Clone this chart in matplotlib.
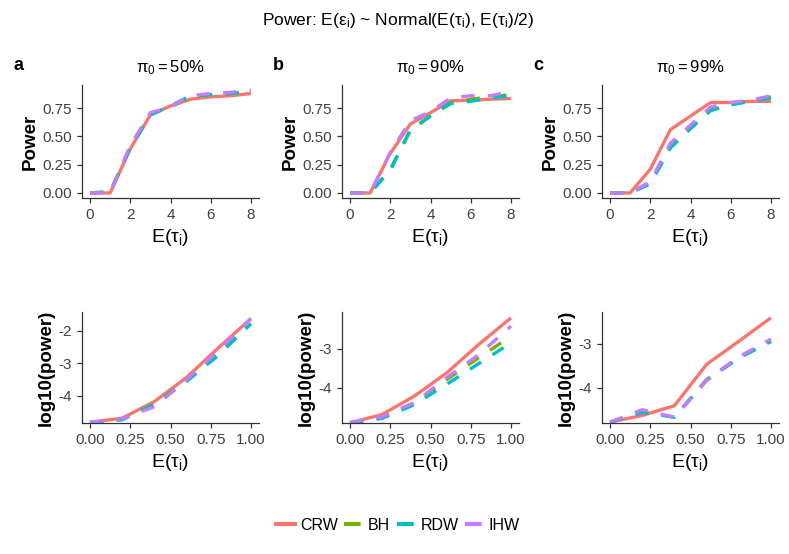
import matplotlib
matplotlib.use('Agg')
import matplotlib.pyplot as plt
from matplotlib.lines import Line2D

plt.rcParams['font.family'] = ['Liberation Sans', 'DejaVu Sans']
plt.rcParams['mathtext.fontset'] = 'custom'
plt.rcParams['mathtext.rm'] = 'Liberation Sans'
plt.rcParams['mathtext.it'] = 'Liberation Sans'
plt.rcParams['mathtext.bf'] = 'Liberation Sans:bold'
plt.rcParams['mathtext.default'] = 'regular'

# ---- data ----
methods = ['CRW', 'BH', 'RDW', 'IHW']
colors = ['#F8766D', '#7CAE00', '#00BFC4', '#C77CFF']
pi0_labels = ['50', '90', '99']
panel_letters = ['a', 'b', 'c']

tau_top = [0, 1, 2, 3, 4, 5, 6, 7, 8]
power_a = {
    'CRW': [0, 0, 0.39, 0.69, 0.77, 0.83, 0.85, 0.86, 0.88],
    'BH':  [0, 0.01, 0.40, 0.70, 0.76, 0.85, 0.87, 0.88, 0.90],
    'RDW': [0, 0.01, 0.40, 0.69, 0.77, 0.86, 0.87, 0.88, 0.89],
    'IHW': [0, 0, 0.42, 0.71, 0.76, 0.86, 0.88, 0.89, 0.91],
}
power_b = {
    'CRW': [0, 0, 0.35, 0.61, 0.71, 0.815, 0.82, 0.83, 0.835],
    'BH':  [0, 0, 0.21, 0.55, 0.68, 0.80, 0.83, 0.85, 0.87],
    'RDW': [0, 0, 0.20, 0.56, 0.68, 0.79, 0.81, 0.84, 0.86],
    'IHW': [0, 0, 0.36, 0.64, 0.72, 0.84, 0.86, 0.86, 0.90],
}
power_c = {
    'CRW': [0, 0, 0.21, 0.56, 0.68, 0.80, 0.80, 0.81, 0.81],
    'BH':  [0, 0, 0.09, 0.40, 0.57, 0.73, 0.78, 0.82, 0.85],
    'RDW': [0, 0, 0.08, 0.40, 0.57, 0.73, 0.78, 0.81, 0.84],
    'IHW': [0, 0, 0.10, 0.44, 0.60, 0.76, 0.80, 0.82, 0.86],
}

tau_bot = [0, 0.2, 0.4, 0.6, 0.8, 1.0]
logp_a = {
    'CRW': [-4.81, -4.68, -4.17, -3.43, -2.51, -1.62],
    'BH':  [-4.81, -4.72, -4.25, -3.53, -2.64, -1.78],
    'RDW': [-4.81, -4.73, -4.25, -3.55, -2.74, -1.78],
    'IHW': [-4.81, -4.70, -4.33, -3.50, -2.60, -1.62],
}
logp_b = {
    'CRW': [-4.90, -4.68, -4.21, -3.62, -2.89, -2.21],
    'BH':  [-4.90, -4.75, -4.38, -3.79, -3.23, -2.68],
    'RDW': [-4.90, -4.78, -4.43, -3.91, -3.38, -2.85],
    'IHW': [-4.88, -4.74, -4.38, -3.74, -3.15, -2.42],
}
logp_c = {
    'CRW': [-4.77, -4.62, -4.40, -3.47, -2.95, -2.42],
    'BH':  [-4.77, -4.53, -4.66, -3.81, -3.32, -2.95],
    'RDW': [-4.77, -4.55, -4.66, -3.83, -3.33, -2.95],
    'IHW': [-4.77, -4.49, -4.66, -3.83, -3.30, -2.90],
}
top_data = [power_a, power_b, power_c]
bot_data = [logp_a, logp_b, logp_c]
bot_ylims = [(-4.83, -1.42), (-4.90, -2.06), (-4.79, -2.29)]
bot_yticks = [[-4, -3, -2], [-4, -3], [-4, -3]]

W, H = 789, 554
fig = plt.figure(figsize=(W / 100, H / 100), dpi=100)

def rect(x0, y0, x1, y1):
    # pixel box -> figure fraction
    return [x0 / W, 1 - y1 / H, (x1 - x0) / W, (y1 - y0) / H]

def style(ax):
    for s in ['top', 'right']:
        ax.spines[s].set_visible(False)
    for s in ['left', 'bottom']:
        ax.spines[s].set_color('#333333')
        ax.spines[s].set_linewidth(0.9)
    ax.tick_params(colors='#333333', labelcolor='#404040', labelsize=11,
                   length=3.5, width=0.9)

lw = 2.4
xlab = r'$\mathrm{E}(\tau_{\mathrm{i}})$'
for k in range(3):
    left = 82 + 260 * k
    ax = fig.add_axes(rect(left, 85, left + 177, 198))
    for m, c in zip(methods, colors):
        ls = '-' if m == 'CRW' else (0, (4, 4))
        ax.plot(tau_top, top_data[k][m], color=c, lw=lw, ls=ls,
                solid_capstyle='butt', dash_capstyle='butt')
    ax.set_xlim(-0.4, 8.4)
    ax.set_ylim(-0.045, 0.955)
    ax.set_xticks([0, 2, 4, 6, 8])
    ax.set_yticks([0, 0.25, 0.5, 0.75])
    ax.set_yticklabels(['0.00', '0.25', '0.50', '0.75'])
    style(ax)
    ax.set_ylabel('Power', fontsize=13.5, fontweight='bold', labelpad=3)
    ax.set_xlabel(xlab, fontsize=14, labelpad=4)
    fig.text((left + 88) / W, 1 - 68 / H, r'$\pi_0 = %s\%%$' % pi0_labels[k],
             ha='center', va='center', fontsize=12)
    fig.text((left - 64) / W, 1 - 66 / H, panel_letters[k],
             ha='center', va='center', fontsize=13, fontweight='bold')

    axb = fig.add_axes(rect(left, 312, left + 177, 423))
    for m, c in zip(methods, colors):
        ls = '-' if m == 'CRW' else (0, (4, 4))
        axb.plot(tau_bot, bot_data[k][m], color=c, lw=lw, ls=ls,
                 solid_capstyle='butt', dash_capstyle='butt')
    axb.set_xlim(-0.05, 1.05)
    axb.set_ylim(*bot_ylims[k])
    axb.set_xticks([0, 0.25, 0.5, 0.75, 1.0])
    axb.set_xticklabels(['0.00', '0.25', '0.50', '0.75', '1.00'])
    axb.set_yticks(bot_yticks[k])
    axb.set_yticklabels([str(t) for t in bot_yticks[k]])
    style(axb)
    axb.set_ylabel('log10(power)', fontsize=13.5, fontweight='bold', labelpad=3)
    axb.set_xlabel(xlab, fontsize=14, labelpad=4)

fig.text(398 / W, 1 - 21 / H,
         r'Power: $\mathrm{E}(\epsilon_{\mathrm{i}})$ ~ Normal($\mathrm{E}(\tau_{\mathrm{i}})$, '
         r'$\mathrm{E}(\tau_{\mathrm{i}})/2$)',
         ha='center', va='center', fontsize=12.5)

handles = [Line2D([], [], color=c, lw=3,
                  ls='-' if m == 'CRW' else (0, (4, 4)))
           for m, c in zip(methods, colors)]
fig.legend(handles, methods, loc='center', bbox_to_anchor=(398 / W, 1 - 525 / H),
           ncol=4, frameon=False, fontsize=11.5, handlelength=1.2,
           handletextpad=0.3, columnspacing=0.4)

fig.savefig('out.png', dpi=100)
